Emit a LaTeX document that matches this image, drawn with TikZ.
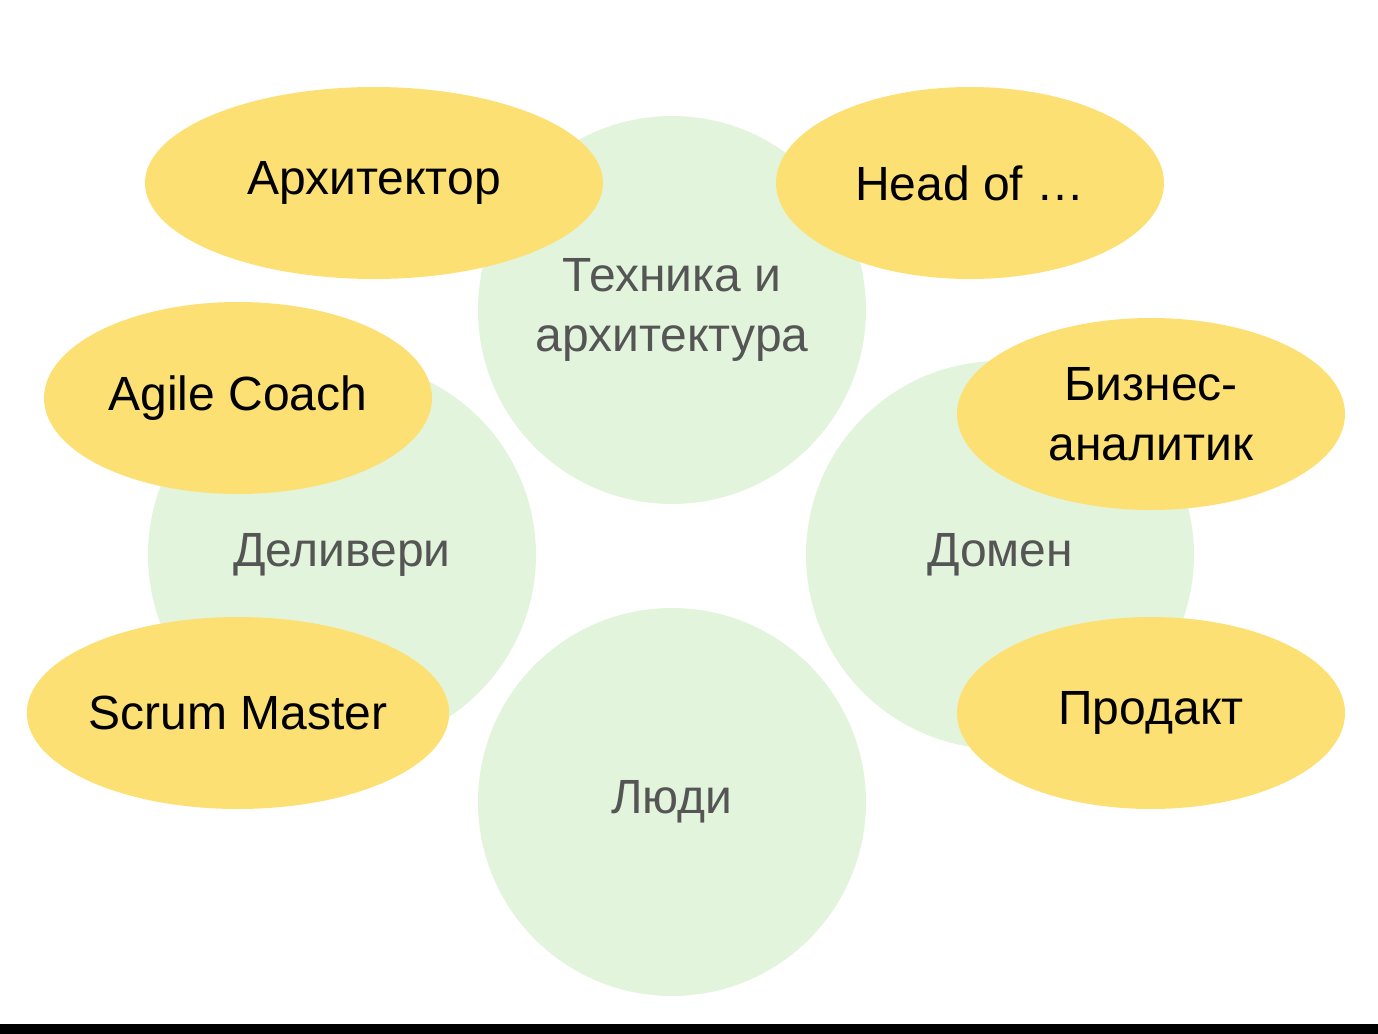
\documentclass[tikz,border=0pt]{standalone}
\usepackage{fontspec}
\setmainfont{Liberation Sans}
\usetikzlibrary{shapes.geometric}
\definecolor{areagreen}{HTML}{E2F5DC}
\definecolor{roleyellow}{HTML}{FDE074}
\definecolor{areatext}{HTML}{555555}
\tikzstyle{area}=[circle, minimum size=194pt, inner sep=0, fill=areagreen, text=areatext, font=\fontsize{24}{30}\selectfont, align=center]
\tikzstyle{role}=[ellipse, minimum width=194pt, minimum height=96pt, inner sep=0, fill=roleyellow, font=\fontsize{24}{30}\selectfont, align=center]

\begin{document}
\begin{tikzpicture}[x=0.5pt, y=-0.5pt]

\useasboundingbox (0, 0) rectangle (1378, 1034);
\fill [black] (0, 1024) rectangle (1378, 1034);

\node [area] (tech) at (672, 310) {Техника и\\архитектура};
\node [area] (deliv) at (342, 555) {Деливери};
\node [area] (domain) at (1000, 555) {Домен};
\node [area] (people) at (672, 802) {Люди};

\node [role, minimum width=229pt] (arch) at (374, 183) {Архитектор};
\node [role] (head) at (970, 183) {Head of …};
\node [role] (agile) at (238, 398) {Agile Coach};
\node [role] (scrum) at (238, 713) {Scrum Master};
\node [role] (ba) at (1151, 414) {Бизнес-\\аналитик};
\node [role] (prod) at (1151, 713) {Продакт};

\end{tikzpicture}
\end{document}
